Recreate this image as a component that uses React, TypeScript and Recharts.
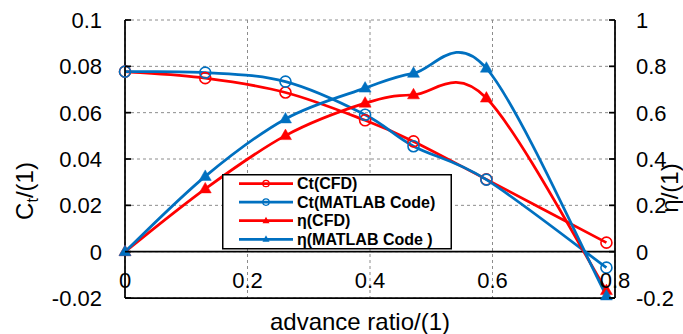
import React from 'react';
import { LineChart, Line, XAxis, YAxis, CartesianGrid, ReferenceLine, Legend } from 'recharts';

// advance ratio J
const advanceRatio = [0, 0.131, 0.262, 0.392, 0.471, 0.59, 0.786];
// thrust coefficient
const ctCFD = [0.0777, 0.0749, 0.0687, 0.0567, 0.0476, 0.0312, 0.0039];
const ctMATLAB = [0.0777, 0.0773, 0.0734, 0.0591, 0.0455, 0.0311, -0.0069];
// efficiency
const etaCFD = [0, 0.271, 0.501, 0.641, 0.677, 0.663, -0.168];
const etaMATLAB = [0, 0.325, 0.573, 0.706, 0.77, 0.792, -0.191];

const xTicks = [0, 0.2, 0.4, 0.6, 0.8];
const ctTicks = [-0.02, 0, 0.02, 0.04, 0.06, 0.08, 0.1];
const etaTicks = [-0.2, 0, 0.2, 0.4, 0.6, 0.8, 1];

const seriesNames = ['Ct(CFD)', 'Ct(MATLAB Code)', 'η(CFD)', 'η(MATLAB Code )'];

const data = advanceRatio.map((j, i) => ({
  j,
  ctCFD: ctCFD[i],
  ctMATLAB: ctMATLAB[i],
  etaCFD: etaCFD[i],
  etaMATLAB: etaMATLAB[i],
}));

const RED = '#FF0000';
const BLUE = '#0070C0';
const FONT = 'Arial, "Liberation Sans", sans-serif';
const TICK_FS = 22;
const TITLE_FS = 24;

// Excel-like smoothed line (Catmull-Rom style bezier)
function excelCurve(context: any) {
  let pts: number[][] = [];
  return {
    areaStart() {},
    areaEnd() {},
    lineStart() {
      pts = [];
    },
    lineEnd() {
      const n = pts.length;
      if (!n) return;
      context.moveTo(pts[0][0], pts[0][1]);
      for (let i = 0; i < n - 1; i++) {
        const p0 = pts[i - 1] || pts[i];
        const p1 = pts[i];
        const p2 = pts[i + 1];
        const p3 = pts[i + 2] || p2;
        context.bezierCurveTo(
          p1[0] + (p2[0] - p0[0]) / 6,
          p1[1] + (p2[1] - p0[1]) / 6,
          p2[0] - (p3[0] - p1[0]) / 6,
          p2[1] - (p3[1] - p1[1]) / 6,
          p2[0],
          p2[1]
        );
      }
    },
    point(x: number, y: number) {
      pts.push([+x, +y]);
    },
  };
}

const circleDot = (color: string) => (props: any) => {
  const { cx, cy, index } = props;
  if (cx == null || cy == null) return <g key={index} />;
  return <circle key={index} cx={cx} cy={cy} r={5.5} fill="none" stroke={color} strokeWidth={1.6} />;
};

const triDot = (color: string) => (props: any) => {
  const { cx, cy, index } = props;
  if (cx == null || cy == null) return <g key={index} />;
  return (
    <path
      key={index}
      d={`M${cx},${cy - 6.5} L${cx + 6},${cy + 4} L${cx - 6},${cy + 4} Z`}
      fill={color}
      stroke={color}
      strokeWidth={0.5}
    />
  );
};

const LeftTick = (props: any) => {
  const { x, y, payload } = props;
  return (
    <g>
      <line x1={x} x2={x + 6} y1={y} y2={y} stroke="#000" strokeWidth={1.75} />
      <text x={x - 23} y={y} dy="0.36em" textAnchor="end" fontSize={TICK_FS} fontFamily={FONT} fill="#000">
        {payload.value}
      </text>
    </g>
  );
};

const RightTick = (props: any) => {
  const { x, y, payload } = props;
  return (
    <g>
      <line x1={x - 6} x2={x} y1={y} y2={y} stroke="#000" strokeWidth={1.75} />
      <text x={x + 21} y={y} dy="0.36em" textAnchor="start" fontSize={TICK_FS} fontFamily={FONT} fill="#000">
        {payload.value}
      </text>
    </g>
  );
};

const BottomTick = (props: any) => {
  const { x, y, payload } = props;
  return (
    <text x={x} y={y - 18} dy="0.36em" textAnchor="middle" fontSize={TICK_FS} fontFamily={FONT} fill="#000">
      {payload.value}
    </text>
  );
};

const legendItems = [
  { name: seriesNames[0], color: RED, marker: 'circle' },
  { name: seriesNames[1], color: BLUE, marker: 'circle' },
  { name: seriesNames[2], color: RED, marker: 'tri' },
  { name: seriesNames[3], color: BLUE, marker: 'tri' },
];

const LegendBox = () => (
  <svg width={230} height={76} style={{ display: 'block' }}>
    <rect x={0.75} y={0.75} width={228.5} height={74} fill="#fff" stroke="#000" strokeWidth={1.5} />
    {legendItems.map((it, i) => {
      const cy = 9.5 + i * 18.6;
      return (
        <g key={it.name}>
          <line x1={17} x2={71} y1={cy} y2={cy} stroke={it.color} strokeWidth={2.75} />
          {it.marker === 'circle' ? (
            <circle cx={44} cy={cy} r={3.2} fill="none" stroke={it.color} strokeWidth={1.3} />
          ) : (
            <path d={`M44,${cy - 4} L47.5,${cy + 2.5} L40.5,${cy + 2.5} Z`} fill={it.color} />
          )}
          <text x={75} y={cy} dy="0.36em" fontSize={16} fontWeight="bold" fontFamily={FONT} fill="#000">
            {it.name}
          </text>
        </g>
      );
    })}
  </svg>
);

export default function App() {
  return (
    <div style={{ position: 'absolute', left: 0, top: 0, width: 683, height: 334, background: '#fff' }}>
      <LineChart width={683} height={334} data={data} margin={{ top: 20, right: 0, bottom: 0, left: 0 }}>
        <CartesianGrid
          xAxisId="bottom"
          yAxisId="left"
          stroke="#8c8c8c"
          strokeDasharray="3 3"
          strokeWidth={1}
        />
        <XAxis
          xAxisId="bottom"
          dataKey="j"
          type="number"
          domain={[0, 0.8]}
          ticks={xTicks}
          interval={0}
          height={36}
          tickSize={0}
          tickMargin={0}
          tickLine={false}
          axisLine={{ stroke: '#000', strokeWidth: 1.75 }}
          tick={<BottomTick />}
          label={{
            value: 'advance ratio/(1)',
            position: 'insideBottom',
            offset: 0,
            content: () => (
              <text x={360} y={321} dy="0.36em" textAnchor="middle" fontSize={TITLE_FS} fontFamily={FONT} fill="#000">
                advance ratio/(1)
              </text>
            ),
          }}
        />
        <XAxis
          xAxisId="top"
          dataKey="j"
          type="number"
          orientation="top"
          domain={[0, 0.8]}
          height={0}
          tick={false}
          tickLine={false}
          axisLine={{ stroke: '#000', strokeWidth: 1.75 }}
        />
        <YAxis
          yAxisId="left"
          type="number"
          domain={[-0.02, 0.1]}
          ticks={ctTicks}
          interval={0}
          width={125}
          tickSize={0}
          tickMargin={0}
          tickLine={false}
          axisLine={{ stroke: '#000', strokeWidth: 1.75 }}
          tick={<LeftTick />}
          label={{
            value: 'Ct/(1)',
            content: () => (
              <text
                transform="translate(24,191) rotate(-90)"
                textAnchor="middle"
                dy="0.36em"
                fontSize={TITLE_FS}
                fontFamily={FONT}
                fill="#000"
              >
                C
                <tspan fontSize={16} dy={5}>
                  t
                </tspan>
                <tspan dy={-5}>/(1)</tspan>
              </text>
            ),
          }}
        />
        <YAxis
          yAxisId="right"
          orientation="right"
          type="number"
          domain={[-0.2, 1]}
          ticks={etaTicks}
          interval={0}
          width={68}
          tickSize={0}
          tickMargin={0}
          tickLine={false}
          axisLine={{ stroke: '#000', strokeWidth: 1.75 }}
          tick={<RightTick />}
          label={{
            value: 'η/(1)',
            content: () => (
              <text
                transform="translate(669,188) rotate(-90)"
                textAnchor="middle"
                dy="0.36em"
                fontSize={TITLE_FS}
                fontFamily={FONT}
                fill="#000"
              >
                η/(1)
              </text>
            ),
          }}
        />
        <ReferenceLine xAxisId="bottom" yAxisId="left" y={0} stroke="#000" strokeWidth={1.75} />
        <Line
          xAxisId="bottom"
          yAxisId="left"
          dataKey="ctCFD"
          name={seriesNames[0]}
          type={excelCurve as any}
          stroke={RED}
          strokeWidth={2.75}
          dot={circleDot(RED)}
          activeDot={false}
          isAnimationActive={false}
        />
        <Line
          xAxisId="bottom"
          yAxisId="left"
          dataKey="ctMATLAB"
          name={seriesNames[1]}
          type={excelCurve as any}
          stroke={BLUE}
          strokeWidth={2.75}
          dot={circleDot(BLUE)}
          activeDot={false}
          isAnimationActive={false}
        />
        <Line
          xAxisId="bottom"
          yAxisId="right"
          dataKey="etaCFD"
          name={seriesNames[2]}
          type={excelCurve as any}
          stroke={RED}
          strokeWidth={2.75}
          dot={triDot(RED)}
          activeDot={false}
          isAnimationActive={false}
        />
        <Line
          xAxisId="bottom"
          yAxisId="right"
          dataKey="etaMATLAB"
          name={seriesNames[3]}
          type={excelCurve as any}
          stroke={BLUE}
          strokeWidth={2.75}
          dot={triDot(BLUE)}
          activeDot={false}
          isAnimationActive={false}
        />
        <Legend
          layout="vertical"
          align="center"
          verticalAlign="middle"
          content={() => <LegendBox />}
          wrapperStyle={{ position: 'absolute', left: 222, top: 174, width: 230, height: 76, margin: 0, padding: 0 }}
        />
      </LineChart>
    </div>
  );
}
